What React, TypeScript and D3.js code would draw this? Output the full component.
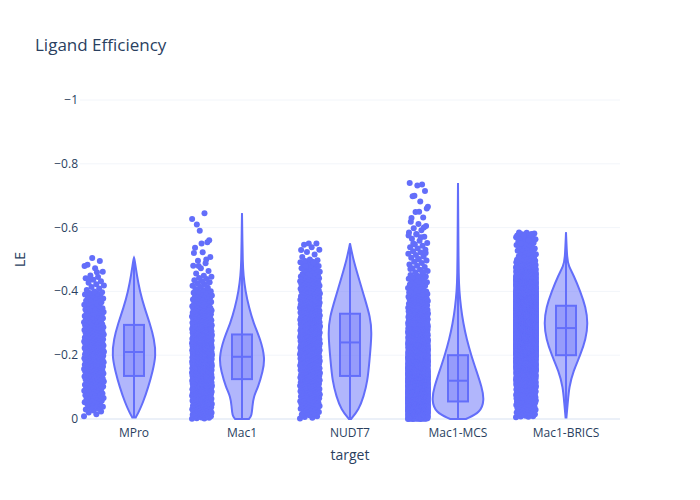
import React from 'react'
import * as d3 from 'd3'

const categories = ['MPro', 'Mac1', 'NUDT7', 'Mac1-MCS', 'Mac1-BRICS']
const yTicks = [0, -0.2, -0.4, -0.6, -0.8, -1]

// violin profiles: [LE, relative density]
const profiles: [number, number][][] = [
  [[-0.005, 0.08], [-0.02, 0.2], [-0.05, 0.4], [-0.1, 0.65], [-0.15, 0.85], [-0.2, 1], [-0.25, 0.92], [-0.3, 0.72], [-0.35, 0.47], [-0.4, 0.27], [-0.45, 0.13], [-0.5, 0.03], [-0.505, 0]],
  [[0, 0.3], [-0.01, 0.42], [-0.04, 0.45], [-0.07, 0.5], [-0.1, 0.7], [-0.15, 0.9], [-0.19, 1], [-0.25, 0.8], [-0.3, 0.5], [-0.35, 0.3], [-0.4, 0.15], [-0.45, 0.06], [-0.5, 0.03], [-0.55, 0.02], [-0.645, 0]],
  [[0, 0.05], [-0.03, 0.4], [-0.07, 0.62], [-0.12, 0.8], [-0.18, 0.88], [-0.27, 1], [-0.32, 0.92], [-0.38, 0.66], [-0.45, 0.36], [-0.5, 0.15], [-0.55, 0]],
  [[0, 0.3], [-0.02, 0.85], [-0.06, 1], [-0.1, 0.9], [-0.15, 0.7], [-0.2, 0.5], [-0.25, 0.33], [-0.3, 0.2], [-0.35, 0.11], [-0.4, 0.05], [-0.45, 0.025], [-0.55, 0.015], [-0.62, 0.01], [-0.74, 0]],
  [[-0.005, 0.02], [-0.05, 0.08], [-0.1, 0.14], [-0.15, 0.33], [-0.2, 0.65], [-0.25, 0.9], [-0.3, 1], [-0.35, 0.9], [-0.4, 0.65], [-0.45, 0.35], [-0.48, 0.12], [-0.5, 0.05], [-0.585, 0]],
]
const widthScaleFactor = [1, 1.05, 1, 1.2, 1]

// box stats: [min, q1, median, q3, max]
const boxes = [
  [-0.005, -0.135, -0.21, -0.295, -0.505],
  [0, -0.125, -0.195, -0.265, -0.645],
  [0, -0.135, -0.24, -0.33, -0.55],
  [0, -0.055, -0.12, -0.2, -0.74],
  [-0.005, -0.2, -0.285, -0.355, -0.585],
]

const pointCounts = [300, 700, 600, 2500, 4500]
const outliers = [
  [-0.505, -0.48, -0.46, -0.44],
  [-0.645, -0.61, -0.56, -0.55, -0.52, -0.5, -0.48],
  [-0.55, -0.55, -0.53, -0.49, -0.48],
  [-0.74, -0.735, -0.7, -0.66, -0.65, -0.63, -0.6, -0.58, -0.575, -0.57, -0.55, -0.52, -0.5, -0.47, -0.46],
  [-0.585, -0.58, -0.575, -0.57, -0.56, -0.55],
]

const W = 700, H = 500
const m = { l: 80, r: 80, t: 100, b: 81 }
const color = '#636efa'

function samples(prof: [number, number][], n: number): number[] {
  // inverse CDF of the piecewise density, evenly spaced quantiles
  const segs = prof.slice(1).map((p, i) => ({ a: prof[i], b: p, w: Math.abs(p[0] - prof[i][0]) * (p[1] + prof[i][1]) / 2 }))
  const total = d3.sum(segs, s => s.w)
  const out: number[] = []
  for (let k = 0; k < n; k++) {
    let t = ((k + 0.5) / n) * total
    for (const s of segs) {
      if (t <= s.w) { out.push(s.a[0] + (s.b[0] - s.a[0]) * (t / s.w)); break }
      t -= s.w
    }
  }
  return out
}

export default function App() {
  const x = d3.scaleBand().domain(categories).range([m.l, W - m.r])
  const y = d3.scaleLinear().domain([0, -1]).range([H - m.b, m.t])
  const font = '"Open Sans", sans-serif'
  const tc = '#2a3f5f'

  return (
    <svg width={W} height={H} style={{ position: 'absolute', left: 0, top: 0, background: '#fff' }}>
      {yTicks.map(t => (
        <g key={t}>
          <line x1={m.l} x2={W - m.r} y1={y(t)} y2={y(t)} stroke={t === 0 ? '#ebf0f8' : '#f2f5fa'} strokeWidth={t === 0 ? 2 : 1} />
          <text x={m.l - 2} y={y(t) + 4} textAnchor="end" fontSize={12} fill={tc} fontFamily={font}>{t === 0 ? '0' : '\u2212' + String(-t)}</text>
        </g>
      ))}
      {categories.map((c, i) => {
        const cx = x(c)! + x.bandwidth() / 2
        const hw = 22 * widthScaleFactor[i]
        const area = d3.area<[number, number]>()
          .y(d => y(d[0]))
          .x0(d => cx - d[1] * hw)
          .x1(d => cx + d[1] * hw)
          .curve(d3.curveBasis)
        const b = boxes[i]
        const px = cx - 40
        const pts = samples(profiles[i], pointCounts[i]).concat(outliers[i])
        return (
          <g key={c}>
            {pts.map((v, k) => (
              <circle key={k} cx={px + (((k * 0.618034) % 1) - 0.5) * 20} cy={y(v)} r={3} fill={color} />
            ))}
            <path d={area(profiles[i])!} fill="rgba(99,110,250,0.5)" stroke={color} strokeWidth={2} />
            <line x1={cx} x2={cx} y1={y(b[0])} y2={y(b[4])} stroke={color} strokeWidth={2} />
            <rect x={cx - 10} width={20} y={y(b[3])} height={y(b[1]) - y(b[3])} fill="rgba(99,110,250,0.35)" stroke={color} strokeWidth={2} />
            <line x1={cx - 10} x2={cx + 10} y1={y(b[2])} y2={y(b[2])} stroke={color} strokeWidth={2} />
            <text x={cx} y={H - m.b + 18} textAnchor="middle" fontSize={12} fill={tc} fontFamily={font}>{c}</text>
          </g>
        )
      })}
      <text x={35} y={51} fontSize={17} fill={tc} fontFamily={font}>Ligand Efficiency</text>
      <text x={(m.l + W - m.r) / 2} y={460} textAnchor="middle" fontSize={14} fill={tc} fontFamily={font}>target</text>
      <text transform={`translate(25,${(m.t + H - m.b) / 2}) rotate(-90)`} textAnchor="middle" fontSize={14} fill={tc} fontFamily={font}>LE</text>
    </svg>
  )
}
